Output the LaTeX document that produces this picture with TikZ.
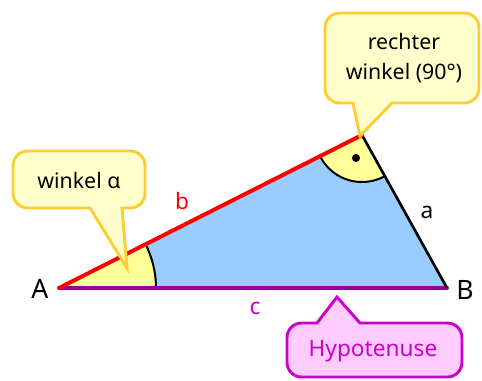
\documentclass[tikz,border=0pt]{standalone}
\usepackage{fontspec}
\setmainfont{Noto Sans}
\usepackage{xcolor}
\usetikzlibrary{positioning}

\definecolor{triblue}{HTML}{99CCFF}
\definecolor{angleyellow}{HTML}{FFFF99}
\definecolor{bubblegold}{HTML}{FFCC33}
\definecolor{bubbleyellow}{HTML}{FFFFCC}
\definecolor{hypopurple}{HTML}{990099}
\definecolor{hypomagenta}{HTML}{CC00CC}
\definecolor{hypopink}{HTML}{FFCCFF}

\begin{document}
\begin{tikzpicture}[
    x=0.75pt, y=-0.75pt,
    side/.style={
        line width=3pt,
        line cap=round
    },
    anglearc/.style={
        draw=black,
        line width=1.5pt
    },
    bubble/.style={
        draw=bubblegold,
        fill=bubbleyellow,
        line width=2.2pt,
        rounded corners=11pt
    },
    hypobubble/.style={
        draw=hypomagenta,
        fill=hypopink,
        line width=2.2pt,
        rounded corners=11pt
    },
    bubbletext/.style={
        align=center,
        font=\fontsize{16}{22}\selectfont
    },
    vertex/.style={
        font=\fontsize{20}{22}\selectfont
    },
    sidelabel/.style={
        font=\fontsize{17}{20}\selectfont
    }
]

\useasboundingbox[fill=white] (0,0) rectangle (482,380);

% Corners of the triangle
\coordinate (A) at (59,288);
\coordinate (B) at (447,288);
\coordinate (C) at (362,135);

% Triangle area
\fill[triblue] (A) -- (B) -- (C) -- cycle;

% Angle alpha
\fill[angleyellow] (A) -- ++(97,0) arc[start angle=0, end angle=-26.8, radius=97] -- cycle;
\draw[anglearc] (A) ++(97,0) arc[start angle=0, end angle=-26.8, radius=97];

% Right angle
\fill[angleyellow] (C) -- ++(60.9:47) arc[start angle=60.9, end angle=153.2, radius=47] -- cycle;
\draw[anglearc] (C) ++(60.9:47) arc[start angle=60.9, end angle=153.2, radius=47];
\fill (356,158) circle[radius=4];

% Sides
\draw[side, hypopurple] (A) -- (B);
\draw[line width=2pt] (C) -- (B);
\draw[side, red] (A) -- (C);

% Labels
\node[vertex] (labelA) at (40,289) {A};
\node[vertex] (labelB) at (465,290) {B};
\node[sidelabel, red] (labelb) at (182,201) {b};
\node[sidelabel] (labela) at (427,212) {a};
\node[sidelabel, hypomagenta] (labelc) at (255,308) {c};

% Callout for alpha
\draw[bubble] (90,208) -- (13,208) -- (13,151) -- (145,151) -- (145,208)
    [sharp corners] -- (122,208) -- (127,268) -- cycle;
\node[bubbletext] (alphatext) at (79,180) {winkel α};

% Callout for the right angle
\draw[bubble] (353,103) -- (325,103) -- (325,13) -- (479,13) -- (479,103)
    [sharp corners] -- (392,103) -- (360,136) -- cycle;
\node[bubbletext] (righttext) at (404,58) {rechter\\winkel (90°)};

% Callout for the hypotenuse
\draw[hypobubble] (317,323) -- (287,323) -- (287,377) -- (462,377) -- (462,323)
    [sharp corners] -- (360,323) -- (337,297) -- cycle;
\node[bubbletext, hypomagenta, font=\fontsize{17}{20}\selectfont] (hypotext) at (373,351) {Hypotenuse};

\end{tikzpicture}
\end{document}
